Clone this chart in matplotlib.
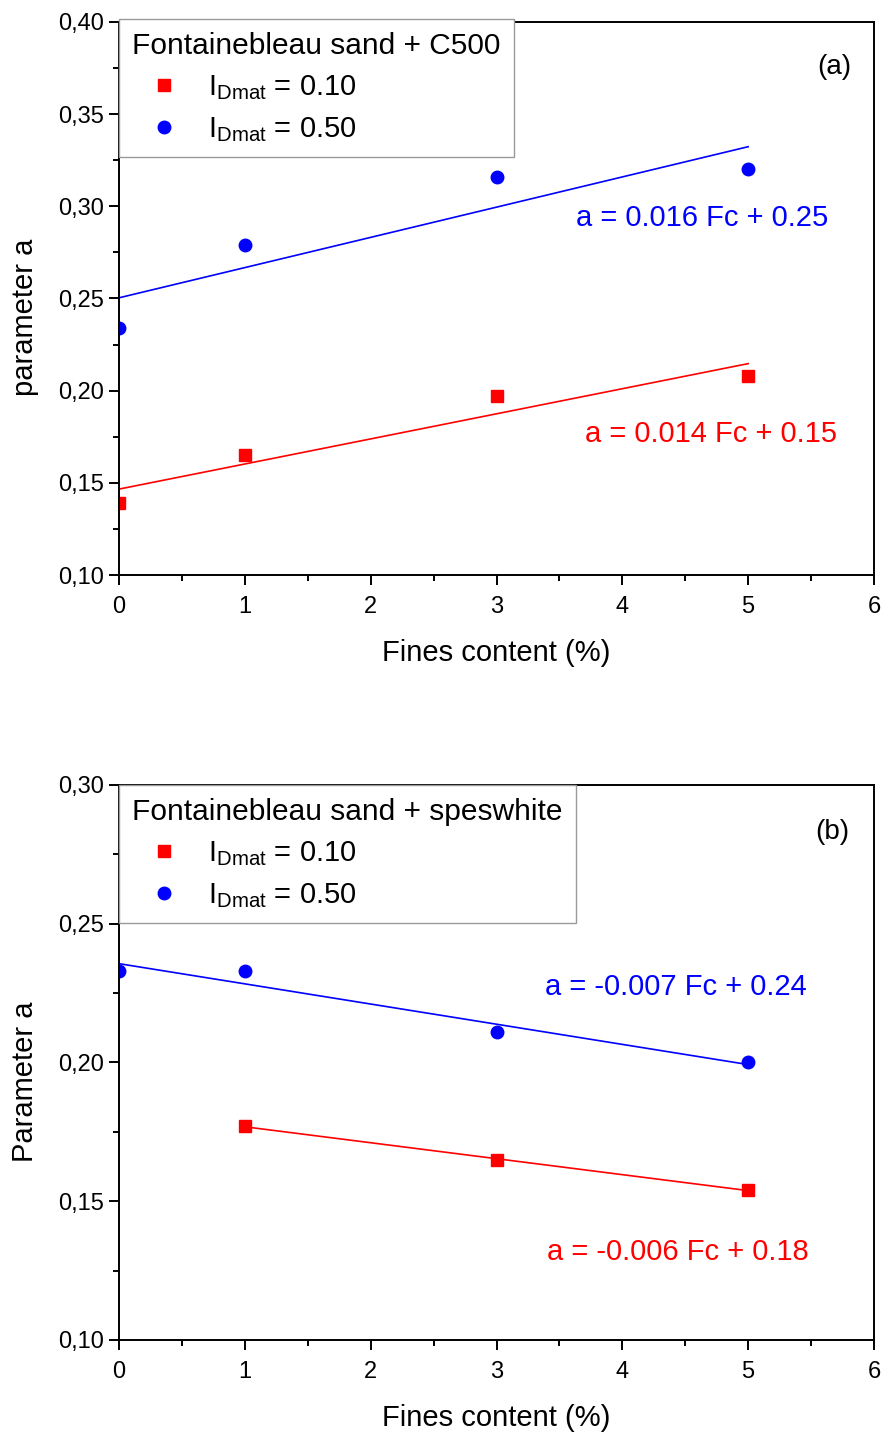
import numpy as np
import matplotlib
matplotlib.use('Agg')
import matplotlib.pyplot as plt
from matplotlib.ticker import MultipleLocator, FuncFormatter

plt.rcParams['font.family'] = ['Liberation Sans', 'DejaVu Sans']
plt.rcParams['mathtext.fontset'] = 'custom'
plt.rcParams['mathtext.rm'] = 'Liberation Sans'
plt.rcParams['mathtext.it'] = 'Liberation Sans:italic'

# (a) Fontainebleau sand + C500
fc_a = np.array([0, 1, 3, 5])
a_low_a = np.array([0.139, 0.165, 0.197, 0.208])   # I_Dmat = 0.10
a_high_a = np.array([0.234, 0.279, 0.316, 0.320])  # I_Dmat = 0.50

# (b) Fontainebleau sand + speswhite
fc_b_low = np.array([1, 3, 5])
a_low_b = np.array([0.177, 0.165, 0.154])
fc_b_high = np.array([0, 1, 3, 5])
a_high_b = np.array([0.233, 0.233, 0.211, 0.200])

vermelho = '#ff0000'
azul = '#0000ff'

fig = plt.figure(figsize=(8.83, 14.33), dpi=100)
ax1 = fig.add_axes([0.1348, 0.5987, 0.855, 0.3860])
ax2 = fig.add_axes([0.1348, 0.0649, 0.855, 0.3873])

virgula = FuncFormatter(lambda v, p: f'{v:.2f}'.replace('.', ','))


def estilo(ax, ymin, ymax, ylabel):
    ax.set_xlim(0, 6)
    ax.set_ylim(ymin, ymax)
    ax.xaxis.set_major_locator(MultipleLocator(1))
    ax.xaxis.set_minor_locator(MultipleLocator(0.5))
    ax.yaxis.set_major_locator(MultipleLocator(0.05))
    ax.yaxis.set_minor_locator(MultipleLocator(0.025))
    ax.yaxis.set_major_formatter(virgula)
    ax.tick_params(which='major', direction='out', length=7, width=1.4, labelsize=17)
    ax.tick_params(axis='x', which='major', pad=8)
    ax.tick_params(axis='y', which='major', pad=4)
    ax.tick_params(which='minor', direction='out', length=4, width=1.4)
    for s in ax.spines.values():
        s.set_linewidth(1.4)
    ax.set_xlabel('Fines content (%)', fontsize=21, labelpad=15)
    ax.set_ylabel(ylabel, fontsize=21)
    ax.yaxis.set_label_coords(-0.106, 0.466)


def ajuste(ax, x, y, cor):
    coef = np.polyfit(x, y, 1)
    xs = np.array([x.min(), x.max()])
    ax.plot(xs, np.polyval(coef, xs), color=cor, lw=1.2)


def legenda(ax, titulo, topo):
    leg = ax.legend(title=titulo, loc='upper left',
                    bbox_to_anchor=(0.0, topo), borderaxespad=0, fontsize=21,
                    title_fontsize=21.5, fancybox=False, framealpha=1,
                    handlelength=2.2, handletextpad=0.4, borderpad=0.45,
                    labelspacing=0.45, alignment='left')
    leg.get_frame().set_edgecolor('#999999')
    leg.get_frame().set_linewidth(1.0)
    return leg


# painel (a)
estilo(ax1, 0.10, 0.40, 'parameter a')
ajuste(ax1, fc_a, a_low_a, vermelho)
ajuste(ax1, fc_a, a_high_a, azul)
ax1.plot(fc_a, a_low_a, 's', color=vermelho, ms=8.5, label=r'I$_{\rm Dmat}$ = 0.10')
ax1.plot(fc_a, a_high_a, 'o', color=azul, ms=9, label=r'I$_{\rm Dmat}$ = 0.50')
legenda(ax1, 'Fontainebleau sand + C500', 1.006)
ax1.text(0.947, 0.918, '(a)', transform=ax1.transAxes, fontsize=20, ha='center', va='center')
ax1.text(0.773, 0.646, 'a = 0.016 Fc + 0.25', transform=ax1.transAxes, fontsize=21,
         color=azul, ha='center', va='center')
ax1.text(0.784, 0.255, 'a = 0.014 Fc + 0.15', transform=ax1.transAxes, fontsize=21,
         color=vermelho, ha='center', va='center')

# painel (b)
estilo(ax2, 0.10, 0.30, 'Parameter a')
ajuste(ax2, fc_b_low, a_low_b, vermelho)
ajuste(ax2, fc_b_high, a_high_b, azul)
ax2.plot(fc_b_low, a_low_b, 's', color=vermelho, ms=8.5, label=r'I$_{\rm Dmat}$ = 0.10')
ax2.plot(fc_b_high, a_high_b, 'o', color=azul, ms=9, label=r'I$_{\rm Dmat}$ = 0.50')
legenda(ax2, 'Fontainebleau sand + speswhite', 1.0)
ax2.text(0.945, 0.915, '(b)', transform=ax2.transAxes, fontsize=20, ha='center', va='center')
ax2.text(0.737, 0.636, 'a = -0.007 Fc + 0.24', transform=ax2.transAxes, fontsize=21,
         color=azul, ha='center', va='center')
ax2.text(0.740, 0.159, 'a = -0.006 Fc + 0.18', transform=ax2.transAxes, fontsize=21,
         color=vermelho, ha='center', va='center')

fig.savefig('out.png', dpi=100)
